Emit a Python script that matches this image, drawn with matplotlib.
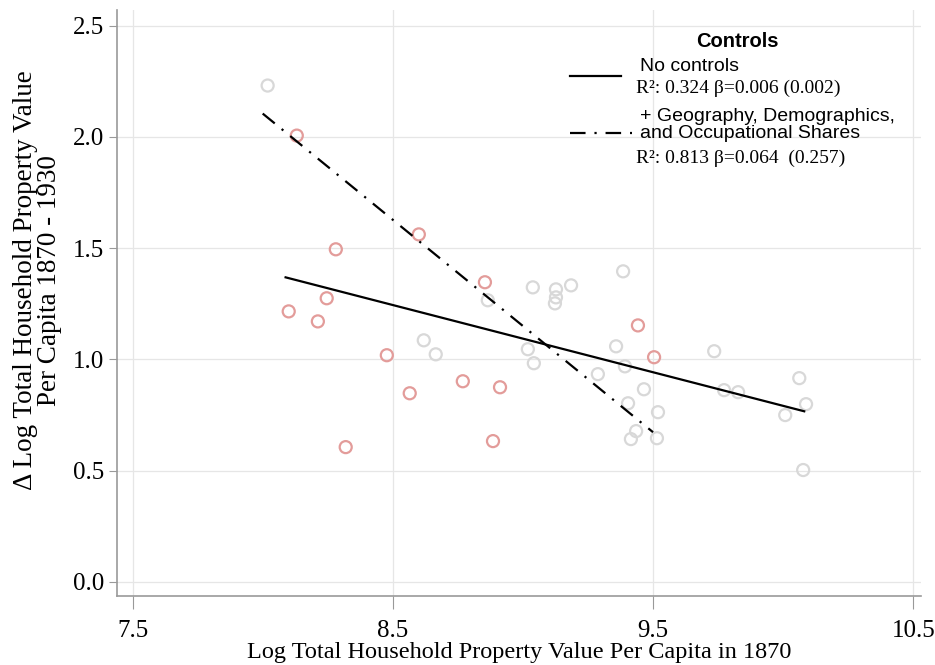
import matplotlib.pyplot as plt
from matplotlib.lines import Line2D

# counties shown in red
red_x = [8.131, 8.281, 8.246, 8.100, 8.212, 8.600, 8.854, 8.477, 8.565, 8.769,
         8.912, 8.319, 8.885, 9.442, 9.504]
red_y = [2.006, 1.495, 1.275, 1.216, 1.171, 1.562, 1.347, 1.019, 0.848, 0.902,
         0.875, 0.606, 0.633, 1.153, 1.010]

# counties shown in gray
gray_x = [8.019, 8.865, 8.619, 8.665, 9.038, 9.127, 9.127, 9.123, 9.185, 9.385,
          9.019, 9.042, 9.288, 9.358, 9.392, 9.465, 9.404, 9.519, 9.435, 9.415,
          9.515, 9.735, 9.773, 9.827, 10.062, 10.008, 10.088, 10.077]
gray_y = [2.231, 1.266, 1.086, 1.023, 1.324, 1.315, 1.279, 1.252, 1.333, 1.396,
          1.046, 0.983, 0.934, 1.059, 0.969, 0.866, 0.803, 0.763, 0.678, 0.642,
          0.646, 1.037, 0.862, 0.853, 0.916, 0.750, 0.799, 0.503]

# fitted lines (end points)
fit0_x = [8.088, 10.081]
fit0_y = [1.369, 0.767]
fit1_x = [8.000, 9.500]
fit1_y = [2.105, 0.673]

xticks = [7.5, 8.5, 9.5, 10.5]
yticks = [0.0, 0.5, 1.0, 1.5, 2.0, 2.5]

serif = 'Liberation Serif'
sans = 'Liberation Sans'

fig = plt.figure(figsize=(9.35, 6.65), dpi=100)
ax = fig.add_axes([0.1251, 0.1038, 0.860, 0.881])

ax.scatter(gray_x, gray_y, s=75, facecolors='none', edgecolors='#d8d8d8',
           linewidths=1.6, zorder=3)
ax.scatter(red_x, red_y, s=75, facecolors='none', edgecolors='#e39c9a',
           linewidths=1.6, zorder=3)

ax.plot(fit0_x, fit0_y, color='black', lw=1.6, zorder=4)
ax.plot(fit1_x, fit1_y, color='black', lw=1.6, zorder=4,
        dashes=[7, 4, 1, 4])

ax.set_xlim(7.44, 10.53)
ax.set_ylim(-0.063, 2.57)
ax.set_xticks(xticks)
ax.set_yticks(yticks)
ax.set_xticklabels([f'{v:.1f}' for v in xticks], family=serif, fontsize=18)
ax.set_yticklabels([f'{v:.1f}' for v in yticks], family=serif, fontsize=18)
ax.tick_params(axis='x', length=9, color='#999999', pad=8)
ax.tick_params(axis='y', length=6, color='#999999', pad=3)

ax.grid(True, color='#e6e6e6', lw=0.9, zorder=0)
ax.set_axisbelow(True)
for s in ['top', 'right']:
    ax.spines[s].set_visible(False)
for s in ['left', 'bottom']:
    ax.spines[s].set_color('#9a9a9a')
    ax.spines[s].set_linewidth(1.2)

ax.set_xlabel('Log Total Household Property Value Per Capita in 1870',
              family=serif, fontsize=17.5, labelpad=0)
ax.set_ylabel('\u0394 Log Total Household Property Value\nPer Capita 1870 - 1930',
              family=serif, fontsize=19.5, linespacing=0.98)
ax.yaxis.set_label_coords(-0.068, 0.539)

# legend, built by hand
tr = ax.transAxes
ax.text(0.772, 0.947, 'Controls', transform=tr, family=sans, fontsize=14.5,
        fontweight='bold', ha='center', va='center')
ax.add_line(Line2D([0.5634, 0.627], [0.887, 0.887], transform=tr,
                   color='black', lw=1.6))
ax.text(0.6505, 0.903, 'No controls', transform=tr, family=sans, fontsize=14,
        ha='left', va='center')
ax.text(0.6455, 0.867, 'R\u00b2: 0.324 \u03b2=0.006 (0.002)', transform=tr,
        family=serif, fontsize=14, ha='left', va='center')
ax.add_line(Line2D([0.5634, 0.6405], [0.790, 0.790], transform=tr,
                   color='black', lw=1.6, dashes=[7, 4, 1, 4]))
ax.text(0.6505, 0.804, '+ Geography, Demographics,\nand Occupational Shares',
        transform=tr, family=sans, fontsize=14, ha='left', va='center',
        linespacing=0.95)
ax.text(0.6455, 0.747, 'R\u00b2: 0.813 \u03b2=0.064  (0.257)', transform=tr,
        family=serif, fontsize=14, ha='left', va='center')

fig.savefig('out.png', dpi=100)
